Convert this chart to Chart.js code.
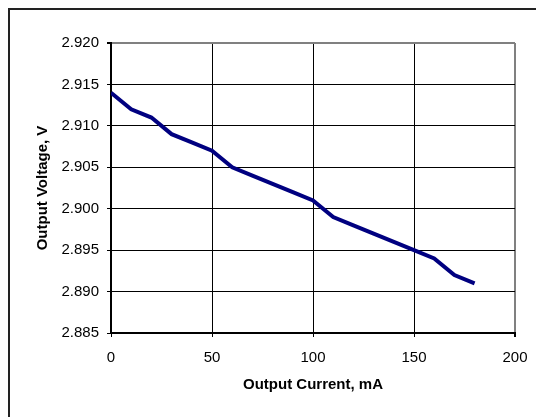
<!DOCTYPE html>
<html>
<head>
<meta charset="utf-8">
<script src="https://cdn.jsdelivr.net/npm/chart.js@4.4.1/dist/chart.umd.min.js"></script>
<style>
  html, body { margin: 0; padding: 0; background: #fff; }
  #wrap { position: relative; width: 536px; height: 417px; overflow: hidden; }
  #frame {
    position: absolute; left: 8px; top: 8px; width: 600px; height: 500px;
    border-left: 2px solid #222; border-top: 2px solid #222;
  }
  canvas { position: absolute; left: 0; top: 0; }
</style>
</head>
<body>
<div id="wrap">
  <div id="frame"></div>
  <canvas id="chart" width="536" height="417"></canvas>
</div>
<script>
// Output voltage vs output current
const currents = [0, 10, 20, 30, 40, 50, 60, 70, 80, 90, 100, 110, 120, 130, 140, 150, 160, 170, 180];
const voltages = [2.914, 2.912, 2.911, 2.909, 2.908, 2.907, 2.905, 2.904, 2.903, 2.902,
                  2.901, 2.899, 2.898, 2.897, 2.896, 2.895, 2.894, 2.892, 2.891];
const xTicks = [0, 50, 100, 150, 200];
const yTicks = [2.885, 2.890, 2.895, 2.900, 2.905, 2.910, 2.915, 2.920];

const font = 'Liberation Sans, Arial, sans-serif';

new Chart(document.getElementById('chart'), {
  type: 'line',
  data: {
    datasets: [{
      data: currents.map((c, i) => ({ x: c, y: voltages[i] })),
      borderColor: '#000080',
      borderWidth: 4,
      pointRadius: 0,
      tension: 0,
      fill: false
    }]
  },
  options: {
    responsive: false,
    animation: false,
    layout: { padding: { left: 0, top: 43, right: 21, bottom: 22 } },
    plugins: { legend: { display: false }, tooltip: { enabled: false } },
    scales: {
      x: {
        type: 'linear',
        min: 0, max: 200,
        afterBuildTicks: s => { s.ticks = xTicks.map(v => ({ value: v })); },
        afterFit: s => { s.height = 62; s.paddingLeft = 0; s.paddingRight = 0; },
        ticks: { color: '#000', font: { family: font, size: 15 }, padding: 12, maxRotation: 0 },
        grid: {
          color: c => (c.tick && c.tick.value === 200) ? '#808080' : '#000',
          lineWidth: c => (c.tick && c.tick.value === 200) ? 2 : 1,
          tickLength: 4,
          tickColor: '#000'
        },
        border: { color: '#000', width: 2 },
        title: {
          display: true, text: 'Output Current, mA', color: '#000',
          font: { family: font, size: 15, weight: 'bold' },
          padding: { top: 0, bottom: 1 }
        }
      },
      y: {
        type: 'linear',
        min: 2.885, max: 2.920,
        afterBuildTicks: s => { s.ticks = yTicks.map(v => ({ value: v })); },
        afterFit: s => { s.width = 111; s.paddingTop = 0; s.paddingBottom = 0; },
        ticks: {
          color: '#000', font: { family: font, size: 15 }, padding: 8,
          callback: v => Number(v).toFixed(3)
        },
        grid: {
          color: c => (c.tick && Math.abs(c.tick.value - 2.920) < 1e-9) ? '#808080' : '#000',
          lineWidth: c => (c.tick && Math.abs(c.tick.value - 2.920) < 1e-9) ? 2 : 1,
          tickLength: 4,
          tickColor: '#000'
        },
        border: { color: '#000', width: 2 },
        title: {
          display: true, text: 'Output Voltage, V', color: '#000',
          font: { family: font, size: 15, weight: 'bold' },
          padding: { top: 34, bottom: 0 }
        }
      }
    }
  }
});
</script>
</body>
</html>
